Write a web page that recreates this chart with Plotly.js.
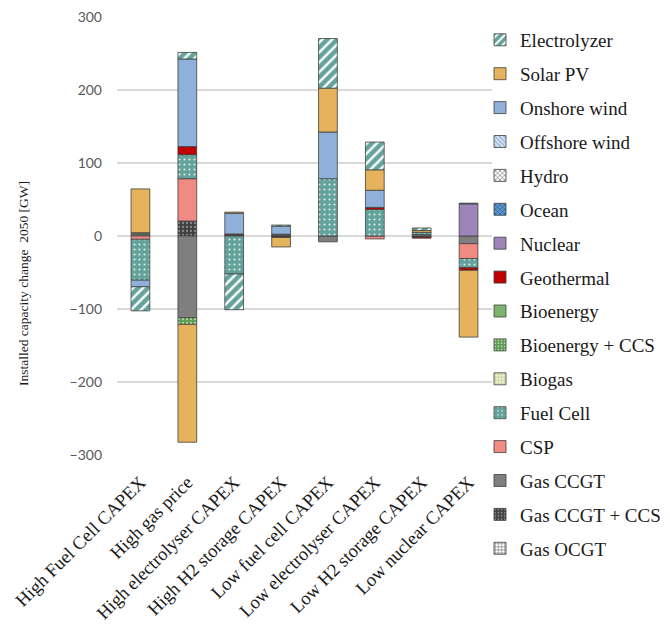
<!DOCTYPE html>
<html>
<head>
<meta charset="utf-8">
<script src="https://cdn.plot.ly/plotly-3.0.1.min.js"></script>
<style>html,body{margin:0;padding:0;background:#fff;}#chart{width:670px;height:624px;}</style>
</head>
<body>
<div id="chart"></div>
<script>
// Scenarios (x categories)
var categories = ["High Fuel Cell CAPEX","High gas price","High electrolyser CAPEX","High H2 storage CAPEX","Low fuel cell CAPEX","Low electrolyser CAPEX","Low H2 storage CAPEX","Low nuclear CAPEX"];

// Installed capacity change 2050 [GW] per technology (series order = stacking order)
var gasOCGT      = [null, null, null, null, null, null, null, null];
var gasCCGTCCS   = [null, 20.5, null, -2, null, null, -1.5, null];
var gasCCGT      = [3, -112, 1.5, 1.5, -8, null, 2, -10.5];
var csp          = [-4.5, 58, null, 1, null, -4, null, -20.5];
var fuelCell     = [-56, 33, -52, null, 78.5, 36.5, 3, -12.5];
var biogas       = [null, null, null, null, null, null, null, null];
var bioCCS       = [null, -9, null, null, null, null, null, null];
var bioenergy    = [1.5, null, null, null, null, null, null, null];
var geothermal   = [null, 11, 1.2, null, null, 2.7, -1.5, -3.5];
var nuclear      = [null, null, null, null, null, null, null, 44];
var ocean        = [null, null, null, null, null, null, null, 1];
var hydro        = [null, null, null, null, null, null, null, null];
var offshoreWind = [null, null, null, null, null, null, null, null];
var onshoreWind  = [-9, 120, 28.5, 11, 64, 23.5, null, null];
var solarPV      = [60, -161.5, 1.5, -13, 60, 28, 2.5, -91.5];
var electrolyzer = [-33, 9, -49, 1.5, 68, 38, 3.5, null];

var seriesNames = ["Gas OCGT","Gas CCGT + CCS","Gas CCGT","CSP","Fuel Cell","Biogas","Bioenergy + CCS","Bioenergy","Geothermal","Nuclear","Ocean","Hydro","Offshore wind","Onshore wind","Solar PV","Electrolyzer"];
var seriesValues = [gasOCGT, gasCCGTCCS, gasCCGT, csp, fuelCell, biogas, bioCCS, bioenergy, geothermal, nuclear, ocean, hydro, offshoreWind, onshoreWind, solarPV, electrolyzer];

var TEAL = "#64A39B";
var styles = {
  "Gas OCGT":       {color:"#FFFFFF", pattern:{shape:"+", fgcolor:"#303030", bgcolor:"#FFFFFF", size:4, solidity:0.25}},
  "Gas CCGT + CCS": {color:"#404040", pattern:{shape:".", fgcolor:"#8A8A8A", bgcolor:"#404040", size:4, solidity:0.25}},
  "Gas CCGT":       {color:"#7F7F7F"},
  "CSP":            {color:"#F08A82"},
  "Fuel Cell":      {color:TEAL, pattern:{shape:".", fgcolor:"#D8ECE8", bgcolor:TEAL, size:5, solidity:0.15}},
  "Biogas":         {color:"#E4EBC4", pattern:{shape:"+", fgcolor:"#9DB35E", bgcolor:"#EEF2D6", size:4, solidity:0.25}},
  "Bioenergy + CCS":{color:"#6FAA5F", pattern:{shape:".", fgcolor:"#B9DAB0", bgcolor:"#5E9E52", size:4, solidity:0.25}},
  "Bioenergy":      {color:"#7DB56F"},
  "Geothermal":     {color:"#C00000"},
  "Nuclear":        {color:"#9C86B9"},
  "Ocean":          {color:"#2E75B6", pattern:{shape:"x", fgcolor:"#1F3F66", bgcolor:"#5B9BD5", size:4, solidity:0.3}},
  "Hydro":          {color:"#BFBFBF", pattern:{shape:"x", fgcolor:"#505050", bgcolor:"#FFFFFF", size:4, solidity:0.3}},
  "Offshore wind":  {color:"#BDD0EA", pattern:{shape:"\\", fgcolor:"#7F9FCF", bgcolor:"#D6E3F3", size:4, solidity:0.3}},
  "Onshore wind":   {color:"#8FB1D9"},
  "Solar PV":       {color:"#E6B25C"},
  "Electrolyzer":   {color:TEAL, pattern:{shape:"/", fgcolor:"#FFFFFF", bgcolor:TEAL, size:7, solidity:0.35}}
};

var traces = seriesNames.map(function(name, i){
  var st = styles[name];
  var marker = {color: st.color, line:{color:"#404040", width:0.8}};
  if (st.pattern) marker.pattern = st.pattern;
  return {
    type:"bar", name:name, x:categories, y:seriesValues[i],
    marker:marker, legendgroup:"g"+i, legendrank: 100 - i, hoverinfo:"name+y"
  };
});

var serif = "'Liberation Serif', 'Times New Roman', serif";
var layout = {
  width:670, height:624,
  margin:{l:117, r:178, t:17, b:169, autoexpand:false},
  paper_bgcolor:"#FFFFFF", plot_bgcolor:"#FFFFFF",
  barmode:"relative", bargap:0.6,
  showlegend:true,
  legend:{
    traceorder:"grouped", tracegroupgap:6.2, maxheight:620,
    x:0.968, xanchor:"left", y:0.991, yanchor:"top",
    font:{family:serif, size:19, color:"#1a1a1a"},
    itemwidth:30, bgcolor:"rgba(0,0,0,0)"
  },
  xaxis:{
    type:"category", tickangle:-45, showgrid:false, zeroline:false, showline:false,
    ticks:"", ticklabelstandoff:12,
    tickfont:{family:serif, size:18.5, color:"#1a1a1a"}
  },
  yaxis:{
    range:[-300,300], dtick:100, tick0:0, showgrid:true, gridcolor:"#D9D9D9", gridwidth:1.5,
    zeroline:true, zerolinecolor:"#D9D9D9", zerolinewidth:1.5, showline:false, ticks:"",
    ticklabelstandoff:14,
    tickfont:{family:"Lato, Carlito, sans-serif", size:14, color:"#595959"}
  },
  annotations:[{
    text:"Installed capacity change  2050 [GW]", textangle:-90,
    xref:"paper", yref:"paper", x:(23-117)/375, y:(455-284)/438,
    xanchor:"center", yanchor:"middle", showarrow:false,
    font:{family:serif, size:13.5, color:"#1a1a1a"}
  }]
};

Plotly.newPlot("chart", traces, layout, {displayModeBar:false, staticPlot:true});
</script>
</body>
</html>
